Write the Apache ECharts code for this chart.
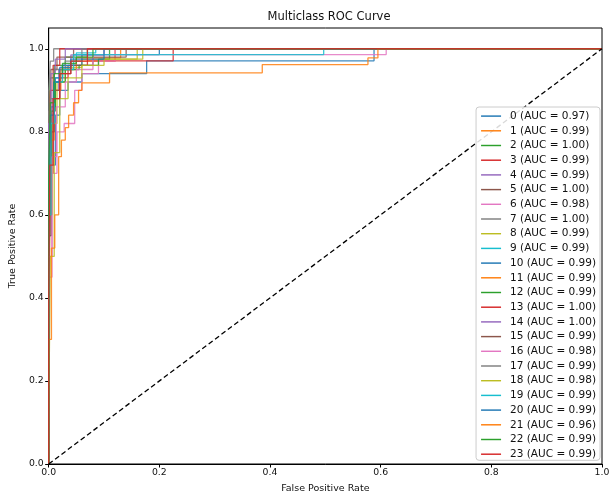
<!DOCTYPE html>
<html><head><meta charset="utf-8">
<script src="https://cdn.jsdelivr.net/npm/echarts@6/dist/echarts.min.js"></script>
<style>html,body{margin:0;padding:0;background:#fff}#c{width:613px;height:499px}</style>
</head><body><div id="c"></div>
<script>
const classNames = ['0','1','2','3','4','5','6','7','8','9','10','11','12','13','14','15','16','17','18','19','20','21','22','23'];
const aucValues = ['0.97','0.99','1.00','0.99','0.99','1.00','0.98','1.00','0.99','0.99','0.99','0.99','0.99','1.00','1.00','0.99','0.98','0.99','0.98','0.99','0.99','0.96','0.99','0.99'];
const xTicks = [0, 0.2, 0.4, 0.6, 0.8, 1.0];
const yTicks = [0, 0.2, 0.4, 0.6, 0.8, 1.0];
const diagonal = [[0,0],[1,1]];

const roc0 = [[0,0],[0,0.55],[0.005,0.55],[0.005,0.72],[0.012,0.72],[0.012,0.84],[0.02,0.84],[0.02,0.9],[0.035,0.9],[0.035,0.92],[0.06,0.92],[0.06,0.94],[0.177,0.94],[0.177,0.971],[0.588,0.971],[0.588,1],[1,1]];
const roc1 = [[0,0],[0,0.6],[0.004,0.6],[0.004,0.8],[0.01,0.8],[0.01,0.9],[0.02,0.9],[0.02,0.95],[0.04,0.95],[0.04,0.97],[0.12,0.97],[0.12,1],[1,1]];
const roc2 = [[0,0],[0,0.8],[0.003,0.8],[0.003,0.93],[0.01,0.93],[0.01,0.96],[0.03,0.96],[0.03,0.98],[0.07,0.98],[0.07,1],[1,1]];
const roc3 = [[0,0],[0,0.35],[0.003,0.35],[0.003,0.7],[0.008,0.7],[0.008,0.88],[0.02,0.88],[0.02,0.93],[0.035,0.93],[0.035,0.96],[0.07,0.96],[0.07,0.971],[0.225,0.971],[0.225,1],[1,1]];
const roc4 = [[0,0],[0,0.5],[0.002,0.5],[0.002,0.75],[0.008,0.75],[0.008,0.9],[0.018,0.9],[0.018,0.95],[0.04,0.95],[0.04,0.985],[0.1,0.985],[0.1,1],[1,1]];
const roc5 = [[0,0],[0,0.85],[0.004,0.85],[0.004,0.95],[0.015,0.95],[0.015,0.98],[0.045,0.98],[0.045,1],[1,1]];
const roc6 = [[0,0],[0,0.45],[0.006,0.45],[0.006,0.7],[0.015,0.7],[0.015,0.8],[0.028,0.8],[0.028,0.82],[0.047,0.82],[0.047,0.9],[0.06,0.9],[0.06,0.94],[0.09,0.94],[0.09,0.97],[0.12,0.97],[0.12,1],[1,1]];
const roc7 = [[0,0],[0,0.9],[0.003,0.9],[0.003,0.97],[0.009,0.97],[0.009,1],[1,1]];
const roc8 = [[0,0],[0,0.2],[0.002,0.2],[0.002,0.6],[0.006,0.6],[0.006,0.82],[0.015,0.82],[0.015,0.92],[0.03,0.92],[0.03,0.955],[0.06,0.955],[0.06,0.975],[0.16,0.975],[0.16,1],[1,1]];
const roc9 = [[0,0],[0,0.65],[0.003,0.65],[0.003,0.85],[0.01,0.85],[0.01,0.93],[0.025,0.93],[0.025,0.96],[0.05,0.96],[0.05,0.99],[0.085,0.99],[0.085,1],[1,1]];
const roc10 = [[0,0],[0,0.7],[0.004,0.7],[0.004,0.86],[0.012,0.86],[0.012,0.93],[0.025,0.93],[0.025,0.96],[0.06,0.96],[0.06,0.986],[0.2,0.986],[0.2,1],[1,1]];
const roc11 = [[0,0],[0,0.4],[0.003,0.4],[0.003,0.78],[0.01,0.78],[0.01,0.9],[0.022,0.9],[0.022,0.95],[0.05,0.95],[0.05,0.978],[0.13,0.978],[0.13,1],[1,1]];
const roc12 = [[0,0],[0,0.6],[0.005,0.6],[0.005,0.85],[0.012,0.85],[0.012,0.92],[0.03,0.92],[0.03,0.95],[0.055,0.95],[0.055,0.96],[0.09,0.96],[0.09,0.975],[0.11,0.975],[0.11,1],[1,1]];
const roc13 = [[0,0],[0,0.75],[0.003,0.75],[0.003,0.9],[0.008,0.9],[0.008,0.96],[0.02,0.96],[0.02,1],[1,1]];
const roc14 = [[0,0],[0,0.82],[0.004,0.82],[0.004,0.94],[0.012,0.94],[0.012,0.975],[0.03,0.975],[0.03,1],[1,1]];
const roc15 = [[0,0],[0,0.55],[0.004,0.55],[0.004,0.8],[0.01,0.8],[0.01,0.9],[0.02,0.9],[0.02,0.94],[0.04,0.94],[0.04,0.96],[0.08,0.96],[0.08,0.98],[0.14,0.98],[0.14,1],[1,1]];
const roc16 = [[0,0],[0,0.5],[0.006,0.5],[0.006,0.74],[0.014,0.74],[0.014,0.86],[0.03,0.86],[0.03,0.92],[0.05,0.92],[0.05,0.95],[0.08,0.95],[0.08,0.986],[0.61,0.986],[0.61,1],[1,1]];
const roc17 = [[0,0],[0,0.7],[0.003,0.7],[0.003,0.88],[0.01,0.88],[0.01,0.95],[0.03,0.95],[0.03,0.97],[0.06,0.97],[0.06,1],[1,1]];
const roc18 = [[0,0],[0,0.1],[0.003,0.1],[0.003,0.5],[0.01,0.5],[0.01,0.75],[0.02,0.75],[0.02,0.88],[0.035,0.88],[0.035,0.93],[0.06,0.93],[0.06,0.96],[0.1,0.96],[0.1,0.975],[0.17,0.975],[0.17,1],[1,1]];
const roc19 = [[0,0],[0,0.6],[0.004,0.6],[0.004,0.82],[0.01,0.82],[0.01,0.92],[0.025,0.92],[0.025,0.95],[0.045,0.95],[0.045,0.986],[0.497,0.986],[0.497,1],[1,1]];
const roc20 = [[0,0],[0,0.65],[0.003,0.65],[0.003,0.84],[0.009,0.84],[0.009,0.92],[0.02,0.92],[0.02,0.955],[0.04,0.955],[0.04,0.975],[0.1,0.975],[0.1,1],[1,1]];
const roc21 = [[0,0],[0,0.3],[0.005,0.3],[0.005,0.52],[0.011,0.52],[0.011,0.6],[0.018,0.6],[0.018,0.74],[0.023,0.74],[0.023,0.78],[0.03,0.78],[0.03,0.81],[0.036,0.81],[0.036,0.84],[0.045,0.84],[0.045,0.87],[0.054,0.87],[0.054,0.9],[0.06,0.9],[0.06,0.918],[0.11,0.918],[0.11,0.942],[0.386,0.942],[0.386,0.962],[0.577,0.962],[0.577,0.978],[0.595,0.978],[0.595,1],[1,1]];
const roc22 = [[0,0],[0,0.7],[0.003,0.7],[0.003,0.87],[0.01,0.87],[0.01,0.94],[0.025,0.94],[0.025,0.965],[0.05,0.965],[0.05,0.98],[0.08,0.98],[0.08,1],[1,1]];
const roc23 = [[0,0],[0,0.4],[0.002,0.4],[0.002,0.72],[0.008,0.72],[0.008,0.88],[0.02,0.88],[0.02,0.94],[0.04,0.94],[0.04,0.97],[0.07,0.97],[0.07,1],[1,1]];

const rocCurves = [roc0,roc1,roc2,roc3,roc4,roc5,roc6,roc7,roc8,roc9,roc10,roc11,roc12,roc13,roc14,roc15,roc16,roc17,roc18,roc19,roc20,roc21,roc22,roc23];
const palette = ['#1f77b4','#ff7f0e','#2ca02c','#d62728','#9467bd','#8c564b','#e377c2','#7f7f7f','#bcbd22','#17becf'];

const FONT = 'DejaVu Sans';
const series = rocCurves.map((d, i) => ({
  name: classNames[i] + ' (AUC = ' + aucValues[i] + ')',
  type: 'line',
  data: d,
  symbol: 'none',
  showSymbol: false,
  silent: true,
  color: palette[i % 10],
  lineStyle: { width: 1.3, color: palette[i % 10], opacity: 0.85 },
  z: 2 + i * 0.01
}));
series.push({
  name: 'diag', type: 'line', data: diagonal, symbol: 'none', silent: true,
  lineStyle: { width: 1.3, color: '#000', type: [5, 3] }, z: 3
});

const chart = echarts.init(document.getElementById('c'), null, { renderer: 'canvas' });
chart.setOption({
  animation: false,
  backgroundColor: '#fff',
  title: {
    text: 'Multiclass ROC Curve', left: 324, top: 6, textAlign: 'center',
    textStyle: { fontFamily: FONT, fontSize: 11.5, fontWeight: 'normal', color: '#111' }
  },
  grid: { left: 47, right: 11, top: 28, bottom: 33, show: true, borderColor: '#000', borderWidth: 1, backgroundColor: 'transparent' },
  legend: {
    data: series.slice(0, 24).map(s => s.name),
    icon: 'path://M0,0 L22,0 L22,1.6 L0,1.6 Z',
    orient: 'vertical', right: 13, top: 107,
    itemWidth: 20, itemHeight: 10, itemGap: 2.5,
    backgroundColor: 'rgba(255,255,255,0.85)', borderColor: '#ccc', borderWidth: 1, borderRadius: 3,
    padding: [3, 4, 0, 5],
    textStyle: { fontFamily: FONT, fontSize: 10.5, lineHeight: 12.2, color: '#111', padding: [0, 0, 0, 4] }
  },
  xAxis: {
    type: 'value', min: 0, max: 1, name: 'False Positive Rate', nameLocation: 'middle', nameGap: 20,
    nameTextStyle: { fontFamily: FONT, fontSize: 9.5, color: '#111' },
    axisLine: { show: true, lineStyle: { color: '#000', width: 1 } },
    axisTick: { show: true, inside: false, length: 3.5, customValues: xTicks, lineStyle: { color: '#000' } },
    axisLabel: { customValues: xTicks, formatter: v => v.toFixed(1), fontFamily: FONT, fontSize: 9.3, color: '#111', margin: 4 },
    splitLine: { show: false }
  },
  yAxis: {
    type: 'value', min: 0, max: 1.05, name: 'True Positive Rate', nameLocation: 'middle', nameGap: 30,
    nameTextStyle: { fontFamily: FONT, fontSize: 9.5, color: '#111' },
    axisLine: { show: true, lineStyle: { color: '#000', width: 1 } },
    axisTick: { show: true, inside: false, length: 3.5, customValues: yTicks, lineStyle: { color: '#000' } },
    axisLabel: { customValues: yTicks, formatter: v => v.toFixed(1), fontFamily: FONT, fontSize: 9.3, color: '#111', margin: 5 },
    splitLine: { show: false }
  },
  series: series
});
</script></body></html>
